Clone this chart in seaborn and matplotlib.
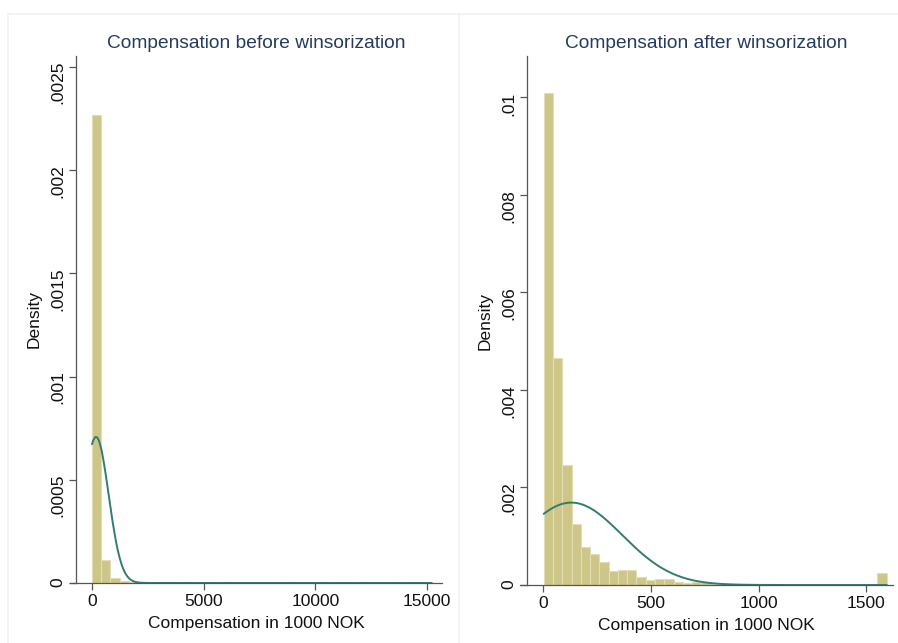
import numpy as np
import pandas as pd
import matplotlib
matplotlib.use("Agg")
from matplotlib import pyplot as plt
from matplotlib.lines import Line2D
import seaborn as sns

# ---- data ----
# before winsorization: 37 bins of ~411 starting at 0
before_start = 0
before_width = 411
before_density = [0.002267, 0.000112, 0.000025, 0.000010, 0.000003, 0.0, 0.0, 0.000004,
                  0.000004, 0.0, 0.000004, 0.000004, 0.0, 0.000004, 0.000004, 0.0,
                  0.0, 0.0, 0.0, 0.0, 0.0, 0.000004, 0.0, 0.0, 0.0, 0.000004,
                  0.000004, 0.0, 0.000004, 0.000004, 0.0, 0.0, 0.0, 0.000004,
                  0.000004, 0.0, 0.000004]
before_mean, before_sd = 180, 564

# after winsorization: 37 bins of ~43 starting at 3
after_start = 3
after_width = 43
after_density = [0.0101, 0.00465, 0.00246, 0.00125, 0.00077, 0.00064, 0.00047, 0.00028,
                 0.00031, 0.00031, 0.00017, 0.00010, 0.00013, 0.00012, 0.00006, 0.00004,
                 0.00007, 0.00006, 0.00003, 0.00001, 0.00001, 0.0, 0.00001, 0.0,
                 0.0, 0.00001, 0.0, 0.00001, 0.00001, 0.00001, 0.0, 0.00001,
                 0.0, 0.00001, 0.0, 0.0, 0.00025]
after_mean, after_sd = 131, 236

before_xticks = [0, 5000, 10000, 15000]
before_yticks = [0, 0.0005, 0.001, 0.0015, 0.002, 0.0025]
before_ylabels = ["0", ".0005", ".001", ".0015", ".002", ".0025"]
after_xticks = [0, 500, 1000, 1500]
after_yticks = [0, 0.002, 0.004, 0.006, 0.008, 0.01]
after_ylabels = ["0", ".002", ".004", ".006", ".008", ".01"]

sns.set_style("white")
plt.rcParams['font.family'] = ['Liberation Sans', 'DejaVu Sans']

bar_col = '#cdc688'
edge_col = '#e2deb2'
line_col = '#347b70'
title_col = '#263a5f'
axis_col = '#555555'

fig = plt.figure(figsize=(8.98, 6.43), dpi=100)

# light panel frames
W, H = 898, 643
for x0, x1 in [(8, 458), (459, 905)]:
    fig.add_artist(Line2D([x0 / W, x0 / W], [0, 1 - 14 / H], transform=fig.transFigure, color='#edf2f2', lw=1.2))
    fig.add_artist(Line2D([x0 / W, x1 / W], [1 - 14 / H, 1 - 14 / H], transform=fig.transFigure, color='#edf2f2', lw=1.2))


def panel(rect, start, width, dens, mu, sd, xlim, ylim, xticks, yticks, ylabels, title, yoff):
    ax = fig.add_axes(rect)
    edges = start + width * np.arange(len(dens) + 1)
    df = pd.DataFrame({'comp': edges[:-1] + width / 2, 'dens': dens})
    sns.histplot(data=df, x='comp', weights='dens', bins=list(edges), stat='count', ax=ax,
                 color=bar_col, edgecolor=edge_col, linewidth=0.8, alpha=1)
    xs = np.linspace(edges[0], edges[-1], 600)
    ys = np.exp(-0.5 * ((xs - mu) / sd) ** 2) / (sd * np.sqrt(2 * np.pi))
    sns.lineplot(x=xs, y=ys, ax=ax, color=line_col, lw=1.4)
    ax.set_xlim(xlim)
    ax.set_ylim(ylim)
    ax.set_xticks(xticks)
    ax.set_xticklabels([str(t) for t in xticks])
    ax.set_yticks(yticks)
    ax.set_yticklabels(ylabels)
    ax.tick_params(axis='both', length=5, width=0.9, color=axis_col, labelsize=12.5, direction='out',
                   left=True, bottom=True, pad=3, labelcolor='#111111')
    ax.tick_params(axis='y', labelrotation=90)
    for lab in ax.get_yticklabels():
        lab.set_va('center')
    for s in ['top', 'right']:
        ax.spines[s].set_visible(False)
    ax.spines['left'].set_position(('axes', yoff))
    ax.spines['left'].set_bounds(0, ylim[1])
    for s in ['left', 'bottom']:
        ax.spines[s].set_color(axis_col)
        ax.spines[s].set_linewidth(0.9)
    ax.set_xlabel("Compensation in 1000 NOK", fontsize=12.5, labelpad=5, color='#111111')
    ax.set_ylabel("Density", fontsize=12.5, labelpad=6, color='#111111')
    ax.set_title(title, fontsize=13.8, color=title_col, pad=6)
    return ax


panel([70 / W, 1 - 583 / H, 372 / W, 527 / H], before_start, before_width, before_density,
      before_mean, before_sd, (-985, 15670), (0, 0.002553), before_xticks, before_yticks,
      before_ylabels, "Compensation before winsorization", 6 / 372)
panel([520 / W, 1 - 585 / H, 373 / W, 529 / H], after_start, after_width, after_density,
      after_mean, after_sd, (-107, 1623), (0, 0.01085), after_xticks, after_yticks,
      after_ylabels, "Compensation after winsorization", 7 / 373)

plt.savefig("out.png", dpi=100)
